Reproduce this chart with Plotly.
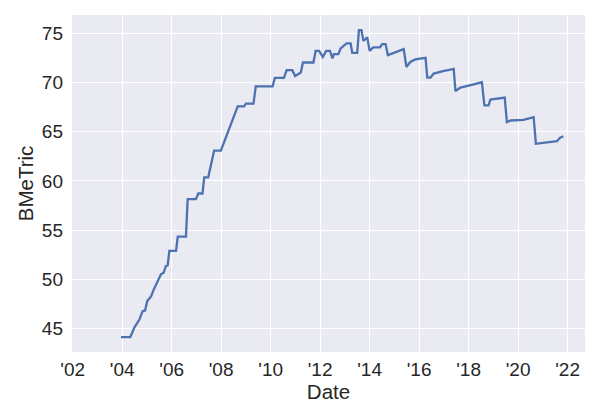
import plotly.graph_objects as go

dates = [
    "2003-12-15", "2004-05-01", "2004-07-01", "2004-09-12", "2004-10-30", "2004-12-05",
    "2005-01-05", "2005-03-05", "2005-04-12", "2005-06-10", "2005-07-27", "2005-09-05",
    "2005-10-08", "2005-11-03", "2005-11-28", "2006-03-07", "2006-04-01", "2006-07-31",
    "2006-08-25", "2006-12-24", "2007-01-30", "2007-04-01", "2007-04-27", "2007-06-25",
    "2007-09-20", "2007-12-28", "2008-09-02", "2008-12-05", "2009-01-01", "2009-04-23",
    "2009-05-26", "2010-01-30", "2010-03-04", "2010-07-16", "2010-08-25", "2010-11-17",
    "2010-12-28", "2011-03-22", "2011-04-23", "2011-09-24", "2011-10-27", "2011-12-17",
    "2012-02-10", "2012-04-01", "2012-05-26", "2012-07-01", "2012-07-23", "2012-09-27",
    "2012-10-30", "2013-01-26", "2013-03-26", "2013-04-20", "2013-07-02", "2013-07-27",
    "2013-09-02", "2013-10-01", "2013-11-28", "2014-01-01", "2014-02-24", "2014-06-03",
    "2014-07-05", "2014-08-25", "2014-09-27", "2015-05-19", "2015-06-28", "2015-08-25",
    "2015-11-06", "2016-04-05", "2016-05-01", "2016-06-18", "2016-08-04", "2016-12-05",
    "2017-03-14", "2017-05-26", "2017-06-21", "2017-09-02", "2018-01-01", "2018-04-08",
    "2018-07-16", "2018-08-22", "2018-10-23", "2018-11-18", "2019-02-24", "2019-06-18",
    "2019-07-20", "2019-09-16", "2020-03-20", "2020-05-12", "2020-08-18", "2020-09-20",
    "2021-03-04", "2021-07-27", "2021-09-13", "2021-10-30",
]
bmetric = [
    44.14, 44.14, 45.13, 45.92, 46.77, 46.84,
    47.79, 48.30, 48.98, 49.83, 50.51, 50.67,
    51.36, 51.43, 52.89, 52.89, 54.35, 54.35,
    58.16, 58.16, 58.73, 58.73, 60.37, 60.37,
    63.09, 63.09, 67.58, 67.58, 67.86, 67.86,
    69.62, 69.62, 70.47, 70.47, 71.26, 71.26,
    70.67, 71.02, 72.04, 72.04, 73.22, 73.22,
    72.61, 73.22, 73.22, 72.45, 72.89, 72.89,
    73.47, 73.98, 73.98, 73.02, 73.02, 75.34,
    75.34, 74.24, 74.59, 73.22, 73.57, 73.57,
    73.91, 73.91, 72.79, 73.40, 71.59, 72.10,
    72.35, 72.51, 70.51, 70.51, 70.92, 71.15,
    71.33, 71.39, 69.14, 69.49, 69.69, 69.83,
    70.03, 67.68, 67.68, 68.27, 68.37, 68.47,
    65.98, 66.15, 66.22, 66.33, 66.49, 63.78,
    63.94, 64.04, 64.39, 64.55,
]

x_tick_vals = ["2002-01-01", "2004-01-01", "2006-01-01", "2008-01-01", "2010-01-01", "2012-01-01",
               "2014-01-01", "2016-01-01", "2018-01-01", "2020-01-01", "2022-01-01"]
x_tick_text = ["'02", "'04", "'06", "'08", "'10", "'12", "'14", "'16", "'18", "'20", "'22"]
y_tick_vals = [45, 50, 55, 60, 65, 70, 75]

fig = go.Figure()
fig.add_trace(go.Scatter(x=dates, y=bmetric, mode="lines",
                         line=dict(color="#4C72B0", width=2.3), showlegend=False))

tick_font = dict(family="Liberation Sans, Arial, sans-serif", size=19, color="#262626")
label_font = dict(family="Liberation Sans, Arial, sans-serif", size=20.5, color="#262626")
fig.update_layout(
    width=600, height=420,
    margin=dict(l=72, r=15, t=15, b=68, autoexpand=False),
    paper_bgcolor="white", plot_bgcolor="#EAEAF2",
    font=tick_font,
    xaxis=dict(
        range=["2001-12-22", "2022-09-15"],
        tickvals=x_tick_vals, ticktext=x_tick_text,
        showgrid=True, gridcolor="white", gridwidth=1.2,
        zeroline=False, showline=False, ticks="",
        ticklabelstandoff=4,
        title=dict(text="Date", font=label_font, standoff=2),
        tickfont=tick_font,
    ),
    yaxis=dict(
        range=[42.62, 76.87],
        tickvals=y_tick_vals,
        showgrid=True, gridcolor="white", gridwidth=1.2,
        zeroline=False, showline=False, ticks="",
        ticklabelstandoff=8,
        title=dict(text="BMeTric", font=label_font, standoff=2),
        tickfont=tick_font,
    ),
)

fig.write_html("out.html", config={"displayModeBar": False},
               post_script="document.body.style.margin='0';")
